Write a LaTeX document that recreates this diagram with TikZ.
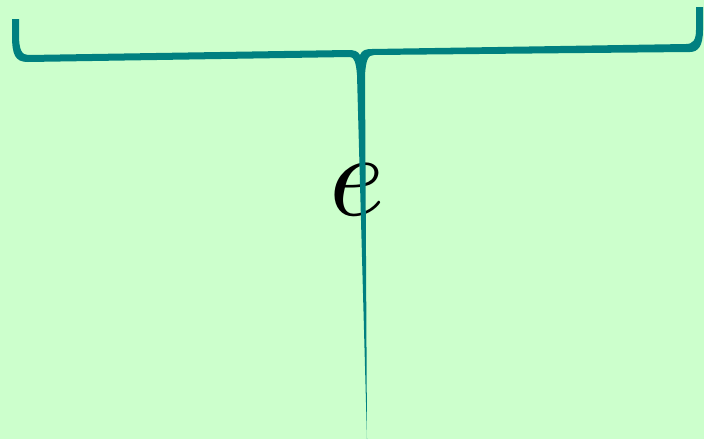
\documentclass[tikz,border=0pt]{standalone}
\begin{document}
\begin{tikzpicture}[x=1pt,y=-1pt,
  bracefill/.style={fill=bracecol,draw=none},
  labeltext/.style={inner sep=0pt,anchor=base,scale=11.9}]
\definecolor{bg}{HTML}{CCFFCC}
\definecolor{bracecol}{HTML}{008080}
\fill[bg] (0,0) rectangle (704,439);
\useasboundingbox (0,0) rectangle (704,439);
\node[labeltext] (lab) at (357,215) {$e$};
\fill[bracefill] (12,19) -- (12,35) .. controls (12,55) and (15,62) .. (28,62)
  -- (350,57) .. controls (354,57) and (356,62) .. (357,75)
  -- (367,439) -- (365,75)
  .. controls (366,60) and (368,55) .. (374,55)
  -- (690,52) .. controls (698,52) and (703,46) .. (703,30) -- (703,7) -- (696,7) -- (696,30)
  .. controls (696,40) and (693,44) .. (686,44)
  -- (372,49) .. controls (366,49) and (362,50) .. (360,55)
  .. controls (358,51) and (354,50) .. (348,50)
  -- (28,55) .. controls (22,55) and (19,50) .. (19,35) -- (19,19) -- cycle;
\end{tikzpicture}
\end{document}
